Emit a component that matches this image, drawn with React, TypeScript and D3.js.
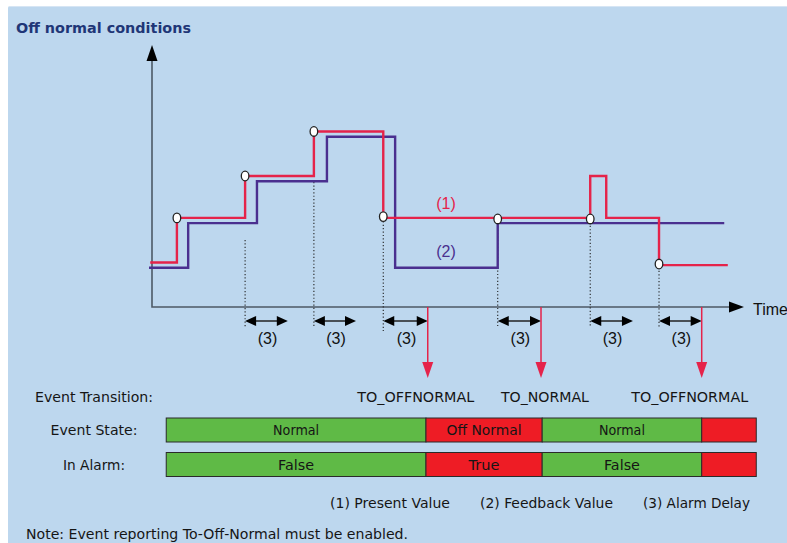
import React from "react";
import * as d3 from "d3";

// time runs 0..100 along the x axis, value 0..100 up the y axis
const presentValue: [number, number][] = [
  [-0.3, 17], [4.2, 34], [15.7, 50], [27.3, 67], [39.0, 34],
  [73.9, 50], [76.6, 34], [85.5, 16], [97.1, 16],
];
const feedbackValue: [number, number][] = [
  [-0.5, 15], [6.1, 32], [17.7, 48], [29.5, 65], [41.0, 15],
  [58.3, 32], [96.5, 32],
];
// white markers where the value changes
const markers: [number, number][] = [
  [4.2, 34], [15.7, 50], [27.3, 67], [39.0, 34.5],
  [58.3, 33.6], [73.9, 33.6], [85.5, 16.4],
];
// alarm delay windows (3)
const delayStart = [15.7, 27.3, 39.0, 58.3, 73.9, 85.5];
const delayEnd = [22.9, 34.4, 46.5, 65.6, 81.1, 92.7];
const dottedTop = [25.6, 47.7, 34, 32.1, 33.6, 16.4];

const transitionTimes = [46.5, 65.6, 92.7];
const transitionNames = ["TO_OFFNORMAL", "TO_NORMAL", "TO_OFFNORMAL"];

const segmentEdges = [2.4, 46.2, 65.8, 92.7, 101.9];
const stateLabels = ["Normal", "Off Normal", "Normal", ""];
const alarmLabels = ["False", "True", "False", ""];
const segmentAlarm = [false, true, false, true];

const rowLabels = ["Event Transition:", "Event State:", "In Alarm:"];
const legendItems = ["(1) Present Value", "(2) Feedback Value", "(3) Alarm Delay"];

const W = 787;
const H = 543;
const BG = "#bdd7ee";
const RED = "#e5234a";
const BLUE = "#4a2f8f";
const GREEN = "#5fba46";
const ALARM = "#ee1c25";
const TAHOMA = "'DejaVu Sans', sans-serif";
const ARIAL = "'Liberation Sans', Arial, sans-serif";

// widths of the Tahoma-like labels as measured on the picture
const textWidth: Record<string, number> = {
  "Event Transition:": 118,
  "Event State:": 87,
  "In Alarm:": 62,
  TO_OFFNORMAL: 117,
  TO_NORMAL: 88,
  Normal: 46,
  "Off Normal": 75,
  False: 36,
  True: 31,
  "(1) Present Value": 120,
  "(2) Feedback Value": 133,
  "(3) Alarm Delay": 107,
};

const Label = (props: any) => {
  const { children, ...rest } = props;
  const w = textWidth[children];
  return (
    <text
      fontFamily={TAHOMA}
      fontSize={13.5}
      fill="#151515"
      textLength={w}
      lengthAdjust="spacingAndGlyphs"
      {...rest}
    >
      {children}
    </text>
  );
};

const App = () => {
  const x = d3.scaleLinear().domain([0, 100]).range([152, 745]);
  const y = d3.scaleLinear().domain([0, 100]).range([307, 45]);
  const line = d3
    .line<[number, number]>()
    .x((d) => x(d[0]))
    .y((d) => y(d[1]))
    .curve(d3.curveStepAfter);

  const axisY = 307;
  const delayY = 321;
  const legendX = [330, 480, 643];
  const labelNudge = [-12, 4, -12];
  const rowY = [402, 435, 470];
  const bars = [
    { top: 418, labels: stateLabels },
    { top: 452.5, labels: alarmLabels },
  ];

  return (
    <svg
      width={W}
      height={H}
      style={{ position: "absolute", left: 0, top: 0, display: "block" }}
    >
      <rect x={0} y={0} width={W} height={H} fill="#ffffff" />
      <rect x={8} y={6} width={W} height={H} fill={BG} rx={2} />
      <line x1={9} x2={W} y1={6.5} y2={6.5} stroke="#d6e5f4" strokeWidth={1} />

      <text
        x={16}
        y={33}
        fontFamily={TAHOMA}
        fontWeight="bold"
        fontSize={14.5}
        fill="#1f3677"
        textLength={175}
        lengthAdjust="spacingAndGlyphs"
      >
        Off normal conditions
      </text>

      {/* axes */}
      <path d={`M152,58 V${axisY} H732`} fill="none" stroke="#4d5a66" strokeWidth={1.6} />
      <path d="M152,45 L146.5,61 L157.5,61 Z" fill="#000" />
      <path d={`M744,${axisY} L729,${axisY - 5.5} L729,${axisY + 5.5} Z`} fill="#000" />
      <text x={753} y={315} fontFamily={ARIAL} fontSize={16} fill="#111">Time</text>

      {/* dotted guides */}
      {delayStart.map((t, i) => (
        <line
          key={"dot" + i}
          x1={x(t)}
          x2={x(t)}
          y1={y(dottedTop[i])}
          y2={i === 2 ? 331 : 327}
          stroke="#222"
          strokeWidth={1.1}
          strokeDasharray="1.2,2.2"
        />
      ))}

      {/* value traces */}
      <path d={line(feedbackValue) || ""} fill="none" stroke={BLUE} strokeWidth={2.4} />
      <path d={line(presentValue) || ""} fill="none" stroke={RED} strokeWidth={2.4} />
      {markers.map((m, i) => (
        <ellipse
          key={"m" + i}
          cx={x(m[0])}
          cy={y(m[1])}
          rx={3.8}
          ry={4.8}
          fill="#fff"
          stroke="#222"
          strokeWidth={1.3}
        />
      ))}
      <text x={446} y={209} textAnchor="middle" fontFamily={ARIAL} fontSize={16} fill={RED}>(1)</text>
      <text x={446} y={257} textAnchor="middle" fontFamily={ARIAL} fontSize={16} fill={BLUE}>(2)</text>

      {/* alarm delays */}
      {delayStart.map((t, i) => {
        const a = x(t);
        const b = x(delayEnd[i]);
        return (
          <g key={"d" + i}>
            <line x1={a + 6} x2={b - 6} y1={delayY} y2={delayY} stroke="#222" strokeWidth={1.5} />
            <path d={`M${a},${delayY} L${a + 11},${delayY - 5} L${a + 11},${delayY + 5} Z`} fill="#000" />
            <path d={`M${b},${delayY} L${b - 11},${delayY - 5} L${b - 11},${delayY + 5} Z`} fill="#000" />
            <text
              x={(a + b) / 2 + 1}
              y={344}
              textAnchor="middle"
              fontFamily={ARIAL}
              fontSize={16}
              fill="#111"
            >
              (3)
            </text>
          </g>
        );
      })}

      {/* event transitions */}
      {transitionTimes.map((t, i) => {
        const tx = x(t);
        return (
          <g key={"tr" + i}>
            <line x1={tx} x2={tx} y1={axisY} y2={364} stroke={RED} strokeWidth={1.5} />
            <path d={`M${tx - 5.5},362 L${tx + 5.5},362 L${tx},378 Z`} fill={RED} />
            <Label x={tx + labelNudge[i]} y={rowY[0]} textAnchor="middle">
              {transitionNames[i]}
            </Label>
          </g>
        );
      })}

      {/* row labels */}
      {rowLabels.map((s, i) => (
        <Label key={"rl" + i} x={94} y={rowY[i]} textAnchor="middle">
          {s}
        </Label>
      ))}

      {/* state bars */}
      {bars.map((bar, r) => (
        <g key={"bar" + r}>
          {segmentAlarm.map((alarm, i) => {
            const a = x(segmentEdges[i]);
            const b = x(segmentEdges[i + 1]);
            return (
              <g key={i}>
                <rect
                  x={a}
                  y={bar.top}
                  width={b - a}
                  height={24}
                  fill={alarm ? ALARM : GREEN}
                  stroke="#2a2a2a"
                  strokeWidth={1}
                />
                {bar.labels[i] ? (
                  <Label x={(a + b) / 2} y={bar.top + 17} textAnchor="middle">
                    {bar.labels[i]}
                  </Label>
                ) : null}
              </g>
            );
          })}
        </g>
      ))}

      {/* legend + note */}
      {legendItems.map((s, i) => (
        <Label key={"lg" + i} x={legendX[i]} y={508}>
          {s}
        </Label>
      ))}
      <text
        x={26}
        y={539}
        fontFamily={TAHOMA}
        fontSize={13.5}
        fill="#151515"
        textLength={382}
        lengthAdjust="spacingAndGlyphs"
      >
        Note: Event reporting To-Off-Normal must be enabled.
      </text>
    </svg>
  );
};

export default App;
